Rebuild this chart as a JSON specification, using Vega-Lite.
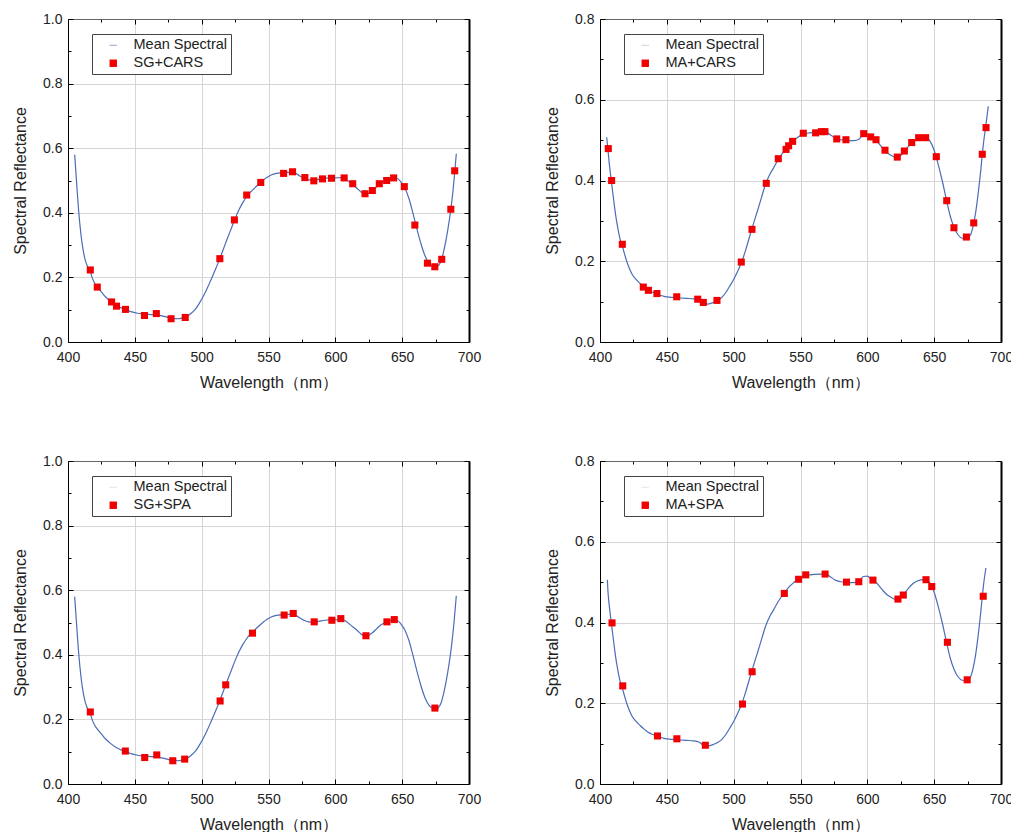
{
  "$schema": "https://vega.github.io/schema/vega-lite/v6.json",
  "padding": {"left": 12, "top": 12, "right": 0, "bottom": 0},
  "columns": 2,
  "spacing": {"row": 64, "column": 63},
  "config": {
    "font": "Liberation Sans",
    "view": {"stroke": null},
    "axis": {"labelFont": "Liberation Sans", "titleFont": "Liberation Sans", "labelColor": "#222", "titleColor": "#222", "titleFontWeight": "normal", "labelOverlap": false, "labelFlush": false}
  },
  "datasets": {
    "sg": [
      {"nm": 405, "r": 0.58}, {"nm": 406, "r": 0.52}, {"nm": 407, "r": 0.46}, {"nm": 408, "r": 0.405}, {"nm": 409, "r": 0.36},
      {"nm": 410, "r": 0.322}, {"nm": 411, "r": 0.293}, {"nm": 412, "r": 0.27}, {"nm": 413, "r": 0.252}, {"nm": 414, "r": 0.24},
      {"nm": 415, "r": 0.23}, {"nm": 416.7, "r": 0.218}, {"nm": 418, "r": 0.2}, {"nm": 420, "r": 0.182}, {"nm": 422, "r": 0.17},
      {"nm": 425, "r": 0.155}, {"nm": 428, "r": 0.14}, {"nm": 432, "r": 0.125}, {"nm": 436, "r": 0.113}, {"nm": 440, "r": 0.105},
      {"nm": 443, "r": 0.1}, {"nm": 447, "r": 0.094}, {"nm": 452, "r": 0.089}, {"nm": 457, "r": 0.086}, {"nm": 462, "r": 0.085},
      {"nm": 466, "r": 0.084}, {"nm": 470, "r": 0.081}, {"nm": 474, "r": 0.077}, {"nm": 478, "r": 0.073}, {"nm": 482, "r": 0.072},
      {"nm": 486, "r": 0.075}, {"nm": 489, "r": 0.079}, {"nm": 492, "r": 0.088}, {"nm": 495, "r": 0.1}, {"nm": 498, "r": 0.118},
      {"nm": 501, "r": 0.14}, {"nm": 504, "r": 0.165}, {"nm": 507, "r": 0.193}, {"nm": 510, "r": 0.222}, {"nm": 513, "r": 0.252},
      {"nm": 516, "r": 0.285}, {"nm": 519, "r": 0.318}, {"nm": 522, "r": 0.35}, {"nm": 525, "r": 0.382}, {"nm": 528, "r": 0.41},
      {"nm": 531, "r": 0.433}, {"nm": 534, "r": 0.452}, {"nm": 537, "r": 0.466}, {"nm": 540, "r": 0.478}, {"nm": 543, "r": 0.49},
      {"nm": 546, "r": 0.501}, {"nm": 549, "r": 0.51}, {"nm": 552, "r": 0.517}, {"nm": 556, "r": 0.522}, {"nm": 560, "r": 0.524},
      {"nm": 564, "r": 0.525}, {"nm": 567, "r": 0.526}, {"nm": 570, "r": 0.523}, {"nm": 573, "r": 0.515}, {"nm": 576, "r": 0.508},
      {"nm": 580, "r": 0.502}, {"nm": 584, "r": 0.501}, {"nm": 588, "r": 0.504}, {"nm": 592, "r": 0.507}, {"nm": 596, "r": 0.508},
      {"nm": 600, "r": 0.508}, {"nm": 604, "r": 0.509}, {"nm": 607, "r": 0.506}, {"nm": 610, "r": 0.497}, {"nm": 613, "r": 0.487},
      {"nm": 616, "r": 0.477}, {"nm": 619, "r": 0.465}, {"nm": 622, "r": 0.458}, {"nm": 625, "r": 0.461}, {"nm": 628, "r": 0.469},
      {"nm": 631, "r": 0.481}, {"nm": 634, "r": 0.492}, {"nm": 637, "r": 0.499}, {"nm": 640, "r": 0.504}, {"nm": 643, "r": 0.508},
      {"nm": 646, "r": 0.507}, {"nm": 649, "r": 0.496}, {"nm": 652, "r": 0.477}, {"nm": 655, "r": 0.445}, {"nm": 658, "r": 0.4},
      {"nm": 661, "r": 0.35}, {"nm": 664, "r": 0.305}, {"nm": 667, "r": 0.268}, {"nm": 670, "r": 0.244}, {"nm": 673, "r": 0.234},
      {"nm": 675, "r": 0.232}, {"nm": 677, "r": 0.236}, {"nm": 679, "r": 0.25}, {"nm": 681, "r": 0.28}, {"nm": 683, "r": 0.32},
      {"nm": 685, "r": 0.37}, {"nm": 687, "r": 0.43}, {"nm": 689, "r": 0.51}, {"nm": 690.5, "r": 0.583}
    ],
    "ma": [
      {"nm": 405, "r": 0.507}, {"nm": 406, "r": 0.475}, {"nm": 407, "r": 0.44}, {"nm": 408, "r": 0.412}, {"nm": 409, "r": 0.385},
      {"nm": 410, "r": 0.358}, {"nm": 411, "r": 0.332}, {"nm": 412, "r": 0.308}, {"nm": 413, "r": 0.288}, {"nm": 414, "r": 0.27},
      {"nm": 415, "r": 0.255}, {"nm": 416.5, "r": 0.24}, {"nm": 418, "r": 0.222}, {"nm": 420, "r": 0.2}, {"nm": 422, "r": 0.182},
      {"nm": 424, "r": 0.168}, {"nm": 427, "r": 0.155}, {"nm": 430, "r": 0.145}, {"nm": 433, "r": 0.136}, {"nm": 436, "r": 0.128},
      {"nm": 440, "r": 0.122}, {"nm": 444, "r": 0.117}, {"nm": 448, "r": 0.113}, {"nm": 452, "r": 0.111}, {"nm": 456, "r": 0.11},
      {"nm": 460, "r": 0.109}, {"nm": 465, "r": 0.108}, {"nm": 470, "r": 0.107}, {"nm": 474, "r": 0.104}, {"nm": 477, "r": 0.097},
      {"nm": 480, "r": 0.094}, {"nm": 484, "r": 0.097}, {"nm": 488, "r": 0.103}, {"nm": 491, "r": 0.11}, {"nm": 494, "r": 0.122},
      {"nm": 497, "r": 0.138}, {"nm": 500, "r": 0.155}, {"nm": 503, "r": 0.175}, {"nm": 506, "r": 0.198}, {"nm": 509, "r": 0.228},
      {"nm": 512, "r": 0.262}, {"nm": 515, "r": 0.295}, {"nm": 518, "r": 0.327}, {"nm": 521, "r": 0.36}, {"nm": 524, "r": 0.392},
      {"nm": 527, "r": 0.415}, {"nm": 530, "r": 0.432}, {"nm": 533, "r": 0.45}, {"nm": 536, "r": 0.465}, {"nm": 539, "r": 0.478},
      {"nm": 542, "r": 0.49}, {"nm": 545, "r": 0.499}, {"nm": 548, "r": 0.507}, {"nm": 551, "r": 0.513}, {"nm": 555, "r": 0.517},
      {"nm": 560, "r": 0.519}, {"nm": 565, "r": 0.52}, {"nm": 569, "r": 0.519}, {"nm": 572, "r": 0.514}, {"nm": 576, "r": 0.505},
      {"nm": 580, "r": 0.501}, {"nm": 585, "r": 0.499}, {"nm": 590, "r": 0.499}, {"nm": 594, "r": 0.503}, {"nm": 597, "r": 0.514},
      {"nm": 600, "r": 0.515}, {"nm": 603, "r": 0.507}, {"nm": 606, "r": 0.501}, {"nm": 609, "r": 0.49}, {"nm": 612, "r": 0.478},
      {"nm": 615, "r": 0.468}, {"nm": 619, "r": 0.46}, {"nm": 622, "r": 0.456}, {"nm": 625, "r": 0.462}, {"nm": 628, "r": 0.473},
      {"nm": 631, "r": 0.486}, {"nm": 634, "r": 0.496}, {"nm": 637, "r": 0.502}, {"nm": 641, "r": 0.506}, {"nm": 644, "r": 0.506},
      {"nm": 647, "r": 0.497}, {"nm": 650, "r": 0.475}, {"nm": 653, "r": 0.44}, {"nm": 656, "r": 0.4}, {"nm": 659, "r": 0.355},
      {"nm": 662, "r": 0.312}, {"nm": 665, "r": 0.283}, {"nm": 668, "r": 0.265}, {"nm": 671, "r": 0.257}, {"nm": 674, "r": 0.256},
      {"nm": 677, "r": 0.264}, {"nm": 679, "r": 0.285}, {"nm": 681, "r": 0.32}, {"nm": 683, "r": 0.37}, {"nm": 685, "r": 0.43},
      {"nm": 686, "r": 0.465}, {"nm": 687, "r": 0.495}, {"nm": 689, "r": 0.545}, {"nm": 690.5, "r": 0.584}
    ],
    "ma2": [
      {"nm": 405.5, "r": 0.506}, {"nm": 406, "r": 0.475}, {"nm": 407, "r": 0.44}, {"nm": 408, "r": 0.412}, {"nm": 409, "r": 0.385},
      {"nm": 410, "r": 0.358}, {"nm": 411, "r": 0.332}, {"nm": 412, "r": 0.308}, {"nm": 413, "r": 0.288}, {"nm": 414, "r": 0.27},
      {"nm": 415, "r": 0.255}, {"nm": 416.5, "r": 0.24}, {"nm": 418, "r": 0.222}, {"nm": 420, "r": 0.2}, {"nm": 422, "r": 0.182},
      {"nm": 424, "r": 0.168}, {"nm": 427, "r": 0.155}, {"nm": 430, "r": 0.145}, {"nm": 433, "r": 0.136}, {"nm": 436, "r": 0.128},
      {"nm": 440, "r": 0.122}, {"nm": 444, "r": 0.117}, {"nm": 448, "r": 0.113}, {"nm": 452, "r": 0.111}, {"nm": 456, "r": 0.11},
      {"nm": 460, "r": 0.109}, {"nm": 465, "r": 0.108}, {"nm": 470, "r": 0.107}, {"nm": 474, "r": 0.104}, {"nm": 477, "r": 0.097},
      {"nm": 480, "r": 0.094}, {"nm": 484, "r": 0.097}, {"nm": 488, "r": 0.103}, {"nm": 491, "r": 0.11}, {"nm": 494, "r": 0.122},
      {"nm": 497, "r": 0.138}, {"nm": 500, "r": 0.155}, {"nm": 503, "r": 0.175}, {"nm": 506, "r": 0.198}, {"nm": 509, "r": 0.228},
      {"nm": 512, "r": 0.262}, {"nm": 515, "r": 0.295}, {"nm": 518, "r": 0.327}, {"nm": 521, "r": 0.36}, {"nm": 524, "r": 0.392},
      {"nm": 527, "r": 0.415}, {"nm": 530, "r": 0.432}, {"nm": 533, "r": 0.45}, {"nm": 536, "r": 0.465}, {"nm": 539, "r": 0.478},
      {"nm": 542, "r": 0.49}, {"nm": 545, "r": 0.499}, {"nm": 548, "r": 0.507}, {"nm": 551, "r": 0.513}, {"nm": 555, "r": 0.517},
      {"nm": 560, "r": 0.519}, {"nm": 565, "r": 0.52}, {"nm": 569, "r": 0.519}, {"nm": 572, "r": 0.514}, {"nm": 576, "r": 0.505},
      {"nm": 580, "r": 0.501}, {"nm": 585, "r": 0.499}, {"nm": 590, "r": 0.499}, {"nm": 594, "r": 0.503}, {"nm": 597, "r": 0.514},
      {"nm": 600, "r": 0.515}, {"nm": 603, "r": 0.507}, {"nm": 606, "r": 0.501}, {"nm": 609, "r": 0.49}, {"nm": 612, "r": 0.478},
      {"nm": 615, "r": 0.468}, {"nm": 619, "r": 0.46}, {"nm": 622, "r": 0.456}, {"nm": 625, "r": 0.462}, {"nm": 628, "r": 0.473},
      {"nm": 631, "r": 0.486}, {"nm": 634, "r": 0.496}, {"nm": 637, "r": 0.502}, {"nm": 641, "r": 0.506}, {"nm": 644, "r": 0.506},
      {"nm": 647, "r": 0.497}, {"nm": 650, "r": 0.475}, {"nm": 653, "r": 0.44}, {"nm": 656, "r": 0.4}, {"nm": 659, "r": 0.355},
      {"nm": 662, "r": 0.312}, {"nm": 665, "r": 0.283}, {"nm": 668, "r": 0.265}, {"nm": 671, "r": 0.257}, {"nm": 674, "r": 0.256},
      {"nm": 677, "r": 0.264}, {"nm": 679, "r": 0.285}, {"nm": 681, "r": 0.32}, {"nm": 683, "r": 0.37}, {"nm": 685, "r": 0.43},
      {"nm": 686, "r": 0.465}, {"nm": 687, "r": 0.495}, {"nm": 688.7, "r": 0.535}
    ],
    "p1": [
      {"nm": 416.7, "r": 0.223, "s": "SG+CARS"}, {"nm": 421.9, "r": 0.17, "s": "SG+CARS"}, {"nm": 432.6, "r": 0.124, "s": "SG+CARS"},
      {"nm": 436.3, "r": 0.111, "s": "SG+CARS"}, {"nm": 443.0, "r": 0.101, "s": "SG+CARS"}, {"nm": 457.2, "r": 0.082, "s": "SG+CARS"},
      {"nm": 466.1, "r": 0.088, "s": "SG+CARS"}, {"nm": 477.1, "r": 0.072, "s": "SG+CARS"}, {"nm": 487.7, "r": 0.076, "s": "SG+CARS"},
      {"nm": 513.6, "r": 0.258, "s": "SG+CARS"}, {"nm": 524.5, "r": 0.378, "s": "SG+CARS"}, {"nm": 533.7, "r": 0.455, "s": "SG+CARS"},
      {"nm": 544.2, "r": 0.494, "s": "SG+CARS"}, {"nm": 561.3, "r": 0.522, "s": "SG+CARS"}, {"nm": 568.0, "r": 0.527, "s": "SG+CARS"},
      {"nm": 577.2, "r": 0.509, "s": "SG+CARS"}, {"nm": 583.9, "r": 0.499, "s": "SG+CARS"}, {"nm": 590.4, "r": 0.505, "s": "SG+CARS"},
      {"nm": 597.1, "r": 0.507, "s": "SG+CARS"}, {"nm": 606.6, "r": 0.508, "s": "SG+CARS"}, {"nm": 613.0, "r": 0.49, "s": "SG+CARS"},
      {"nm": 622.2, "r": 0.459, "s": "SG+CARS"}, {"nm": 627.7, "r": 0.469, "s": "SG+CARS"}, {"nm": 632.9, "r": 0.49, "s": "SG+CARS"},
      {"nm": 638.4, "r": 0.5, "s": "SG+CARS"}, {"nm": 643.6, "r": 0.508, "s": "SG+CARS"}, {"nm": 651.6, "r": 0.481, "s": "SG+CARS"},
      {"nm": 659.5, "r": 0.362, "s": "SG+CARS"}, {"nm": 668.9, "r": 0.244, "s": "SG+CARS"}, {"nm": 674.4, "r": 0.233, "s": "SG+CARS"},
      {"nm": 679.6, "r": 0.256, "s": "SG+CARS"}, {"nm": 686.4, "r": 0.411, "s": "SG+CARS"}, {"nm": 689.3, "r": 0.53, "s": "SG+CARS"}
    ],
    "p2": [
      {"nm": 406.2, "r": 0.479, "s": "MA+CARS"}, {"nm": 408.7, "r": 0.4, "s": "MA+CARS"}, {"nm": 416.7, "r": 0.242, "s": "MA+CARS"},
      {"nm": 432.4, "r": 0.136, "s": "MA+CARS"}, {"nm": 436.2, "r": 0.128, "s": "MA+CARS"}, {"nm": 442.6, "r": 0.12, "s": "MA+CARS"},
      {"nm": 457.4, "r": 0.112, "s": "MA+CARS"}, {"nm": 473.1, "r": 0.106, "s": "MA+CARS"}, {"nm": 477.3, "r": 0.098, "s": "MA+CARS"},
      {"nm": 487.5, "r": 0.103, "s": "MA+CARS"}, {"nm": 505.7, "r": 0.198, "s": "MA+CARS"}, {"nm": 513.7, "r": 0.279, "s": "MA+CARS"},
      {"nm": 524.4, "r": 0.393, "s": "MA+CARS"}, {"nm": 533.4, "r": 0.454, "s": "MA+CARS"}, {"nm": 539.2, "r": 0.477, "s": "MA+CARS"},
      {"nm": 541.1, "r": 0.486, "s": "MA+CARS"}, {"nm": 544.1, "r": 0.497, "s": "MA+CARS"}, {"nm": 552.1, "r": 0.517, "s": "MA+CARS"},
      {"nm": 561.3, "r": 0.518, "s": "MA+CARS"}, {"nm": 565.6, "r": 0.521, "s": "MA+CARS"}, {"nm": 568.3, "r": 0.521, "s": "MA+CARS"},
      {"nm": 577.1, "r": 0.503, "s": "MA+CARS"}, {"nm": 584.0, "r": 0.501, "s": "MA+CARS"}, {"nm": 597.3, "r": 0.516, "s": "MA+CARS"},
      {"nm": 602.5, "r": 0.508, "s": "MA+CARS"}, {"nm": 606.5, "r": 0.501, "s": "MA+CARS"}, {"nm": 613.2, "r": 0.475, "s": "MA+CARS"},
      {"nm": 622.4, "r": 0.458, "s": "MA+CARS"}, {"nm": 627.7, "r": 0.473, "s": "MA+CARS"}, {"nm": 633.2, "r": 0.494, "s": "MA+CARS"},
      {"nm": 638.4, "r": 0.506, "s": "MA+CARS"}, {"nm": 643.6, "r": 0.506, "s": "MA+CARS"}, {"nm": 651.6, "r": 0.459, "s": "MA+CARS"},
      {"nm": 659.4, "r": 0.35, "s": "MA+CARS"}, {"nm": 664.8, "r": 0.283, "s": "MA+CARS"}, {"nm": 674.1, "r": 0.26, "s": "MA+CARS"},
      {"nm": 679.6, "r": 0.295, "s": "MA+CARS"}, {"nm": 686.0, "r": 0.465, "s": "MA+CARS"}, {"nm": 688.8, "r": 0.531, "s": "MA+CARS"}
    ],
    "p3": [
      {"nm": 416.7, "r": 0.223, "s": "SG+SPA"}, {"nm": 442.9, "r": 0.102, "s": "SG+SPA"}, {"nm": 457.4, "r": 0.082, "s": "SG+SPA"},
      {"nm": 466.4, "r": 0.09, "s": "SG+SPA"}, {"nm": 478.4, "r": 0.072, "s": "SG+SPA"}, {"nm": 487.3, "r": 0.077, "s": "SG+SPA"},
      {"nm": 513.8, "r": 0.257, "s": "SG+SPA"}, {"nm": 518.0, "r": 0.307, "s": "SG+SPA"}, {"nm": 538.0, "r": 0.467, "s": "SG+SPA"},
      {"nm": 561.7, "r": 0.523, "s": "SG+SPA"}, {"nm": 568.5, "r": 0.528, "s": "SG+SPA"}, {"nm": 584.2, "r": 0.502, "s": "SG+SPA"},
      {"nm": 597.4, "r": 0.507, "s": "SG+SPA"}, {"nm": 604.1, "r": 0.512, "s": "SG+SPA"}, {"nm": 622.9, "r": 0.459, "s": "SG+SPA"},
      {"nm": 638.6, "r": 0.502, "s": "SG+SPA"}, {"nm": 644.1, "r": 0.509, "s": "SG+SPA"}, {"nm": 674.5, "r": 0.235, "s": "SG+SPA"}
    ],
    "p4": [
      {"nm": 409.0, "r": 0.399, "s": "MA+SPA"}, {"nm": 417.0, "r": 0.243, "s": "MA+SPA"}, {"nm": 443.0, "r": 0.119, "s": "MA+SPA"},
      {"nm": 457.5, "r": 0.112, "s": "MA+SPA"}, {"nm": 478.8, "r": 0.096, "s": "MA+SPA"}, {"nm": 506.6, "r": 0.198, "s": "MA+SPA"},
      {"nm": 513.8, "r": 0.278, "s": "MA+SPA"}, {"nm": 537.9, "r": 0.472, "s": "MA+SPA"}, {"nm": 548.6, "r": 0.507, "s": "MA+SPA"},
      {"nm": 553.9, "r": 0.518, "s": "MA+SPA"}, {"nm": 568.4, "r": 0.52, "s": "MA+SPA"}, {"nm": 584.4, "r": 0.5, "s": "MA+SPA"},
      {"nm": 593.6, "r": 0.501, "s": "MA+SPA"}, {"nm": 604.2, "r": 0.505, "s": "MA+SPA"}, {"nm": 622.9, "r": 0.458, "s": "MA+SPA"},
      {"nm": 626.9, "r": 0.468, "s": "MA+SPA"}, {"nm": 643.9, "r": 0.506, "s": "MA+SPA"}, {"nm": 648.2, "r": 0.489, "s": "MA+SPA"},
      {"nm": 659.9, "r": 0.351, "s": "MA+SPA"}, {"nm": 674.7, "r": 0.258, "s": "MA+SPA"}, {"nm": 686.7, "r": 0.465, "s": "MA+SPA"}
    ]
  },
  "resolve": {"scale": {"color": "independent", "shape": "independent"}, "legend": {"color": "independent", "shape": "independent"}},
  "concat": [
    {
      "width": 401, "height": 323,
      "resolve": {"axis": {"x": "independent", "y": "independent"}},
      "layer": [
        {
          "data": {"name": "sg"},
          "mark": {"type": "line", "color": "#4b6cb7", "strokeWidth": 1.2, "interpolate": "monotone"},
          "encoding": {
            "x": {"field": "nm", "type": "quantitative", "scale": {"domain": [400, 700], "nice": false},
              "axis": {"orient": "bottom", "values": [400, 425, 450, 475, 500, 525, 550, 575, 600, 625, 650, 675, 700], "labelExpr": "datum.value % 50 === 0 ? datum.label : ''", "title": "Wavelength（nm）", "titleFontSize": 16, "titlePadding": 8, "labelFontSize": 14, "labelPadding": 13, "domainColor": "#000", "tickColor": "#000", "grid": true, "gridColor": "#d6d6d6", "gridOpacity": {"condition": {"test": "datum.value % 50 !== 0", "value": 0}, "value": 1}, "tickSize": {"condition": {"test": "datum.value % 50 !== 0", "value": -3}, "value": -5}}},
            "y": {"field": "r", "type": "quantitative", "scale": {"domain": [0, 1], "nice": false},
              "axis": {"orient": "left", "values": [0, 0.1, 0.2, 0.3, 0.4, 0.5, 0.6, 0.7, 0.8, 0.9, 1.0], "format": ".1f", "labelExpr": "round(datum.value * 10) % 2 === 0 ? datum.label : ''", "title": "Spectral Reflectance", "titleFontSize": 16, "titlePadding": 14, "labelFontSize": 14, "labelPadding": 11, "domainColor": "#000", "tickColor": "#000", "grid": true, "gridColor": "#d6d6d6", "gridOpacity": {"condition": {"test": "round(datum.value * 10) % 2 !== 0", "value": 0}, "value": 1}, "tickSize": {"condition": {"test": "round(datum.value * 10) % 2 !== 0", "value": -3}, "value": -5}}}
          }
        },
        {
          "data": {"name": "p1"},
          "mark": {"type": "point", "filled": true, "opacity": 1, "size": 50},
          "encoding": {
            "x": {"field": "nm", "type": "quantitative", "axis": {"orient": "top", "values": [400, 425, 450, 475, 500, 525, 550, 575, 600, 625, 650, 675, 700], "labels": false, "title": null, "grid": false, "domainColor": "#666", "tickColor": "#000", "tickSize": {"condition": {"test": "datum.value % 50 !== 0", "value": -3}, "value": -5}}},
            "y": {"field": "r", "type": "quantitative", "axis": {"orient": "right", "values": [0, 0.1, 0.2, 0.3, 0.4, 0.5, 0.6, 0.7, 0.8, 0.9, 1.0], "labels": false, "title": null, "grid": false, "domainColor": "#000", "domainWidth": 2, "tickColor": "#000", "tickSize": {"condition": {"test": "round(datum.value * 10) % 2 !== 0", "value": -3}, "value": -5}}},
            "color": {"field": "s", "type": "nominal", "scale": {"domain": ["Mean Spectral", "SG+CARS"], "range": ["#8797c8", "#f00000"]},
              "legend": {"title": null, "orient": "none", "legendX": 24, "legendY": 15, "padding": 4, "rowPadding": 3, "symbolOffset": 10, "labelOffset": 13, "labelFontSize": 14.5, "labelFont": "Liberation Sans", "labelColor": "#222", "symbolSize": 55, "symbolStrokeWidth": 0, "strokeColor": "#444", "fillColor": "#fff"}},
            "shape": {"field": "s", "type": "nominal", "scale": {"domain": ["Mean Spectral", "SG+CARS"], "range": ["M-1,-0.12H1V0.12H-1Z", "square"]},
              "legend": {"title": null, "orient": "none", "legendX": 24, "legendY": 15, "padding": 4, "rowPadding": 3, "symbolOffset": 10, "labelOffset": 13, "labelFontSize": 14.5, "labelFont": "Liberation Sans", "labelColor": "#222", "symbolSize": 55, "symbolStrokeWidth": 0, "strokeColor": "#444", "fillColor": "#fff"}}
          }
        }
      ]
    },
    {
      "width": 401, "height": 323,
      "resolve": {"axis": {"x": "independent", "y": "independent"}},
      "layer": [
        {
          "data": {"name": "ma"},
          "mark": {"type": "line", "color": "#4b6cb7", "strokeWidth": 1.2, "interpolate": "monotone"},
          "encoding": {
            "x": {"field": "nm", "type": "quantitative", "scale": {"domain": [400, 700], "nice": false},
              "axis": {"orient": "bottom", "values": [400, 425, 450, 475, 500, 525, 550, 575, 600, 625, 650, 675, 700], "labelExpr": "datum.value % 50 === 0 ? datum.label : ''", "title": "Wavelength（nm）", "titleFontSize": 16, "titlePadding": 8, "labelFontSize": 14, "labelPadding": 13, "domainColor": "#000", "tickColor": "#000", "grid": true, "gridColor": "#d6d6d6", "gridOpacity": {"condition": {"test": "datum.value % 50 !== 0", "value": 0}, "value": 1}, "tickSize": {"condition": {"test": "datum.value % 50 !== 0", "value": -3}, "value": -5}}},
            "y": {"field": "r", "type": "quantitative", "scale": {"domain": [0, 0.8], "nice": false},
              "axis": {"orient": "left", "values": [0, 0.1, 0.2, 0.3, 0.4, 0.5, 0.6, 0.7, 0.8], "format": ".1f", "labelExpr": "round(datum.value * 10) % 2 === 0 ? datum.label : ''", "title": "Spectral Reflectance", "titleFontSize": 16, "titlePadding": 14, "labelFontSize": 14, "labelPadding": 11, "domainColor": "#000", "tickColor": "#000", "grid": true, "gridColor": "#d6d6d6", "gridOpacity": {"condition": {"test": "round(datum.value * 10) % 2 !== 0", "value": 0}, "value": 1}, "tickSize": {"condition": {"test": "round(datum.value * 10) % 2 !== 0", "value": -3}, "value": -5}}}
          }
        },
        {
          "data": {"name": "p2"},
          "mark": {"type": "point", "filled": true, "opacity": 1, "size": 50},
          "encoding": {
            "x": {"field": "nm", "type": "quantitative", "axis": {"orient": "top", "values": [400, 425, 450, 475, 500, 525, 550, 575, 600, 625, 650, 675, 700], "labels": false, "title": null, "grid": false, "domainColor": "#666", "tickColor": "#000", "tickSize": {"condition": {"test": "datum.value % 50 !== 0", "value": -3}, "value": -5}}},
            "y": {"field": "r", "type": "quantitative", "axis": {"orient": "right", "values": [0, 0.1, 0.2, 0.3, 0.4, 0.5, 0.6, 0.7, 0.8], "labels": false, "title": null, "grid": false, "domainColor": "#000", "domainWidth": 2, "tickColor": "#000", "tickSize": {"condition": {"test": "round(datum.value * 10) % 2 !== 0", "value": -3}, "value": -5}}},
            "color": {"field": "s", "type": "nominal", "scale": {"domain": ["Mean Spectral", "MA+CARS"], "range": ["#c8ccd8", "#f00000"]},
              "legend": {"title": null, "orient": "none", "legendX": 24, "legendY": 15, "padding": 4, "rowPadding": 3, "symbolOffset": 10, "labelOffset": 13, "labelFontSize": 14.5, "labelFont": "Liberation Sans", "labelColor": "#222", "symbolSize": 55, "symbolStrokeWidth": 0, "strokeColor": "#444", "fillColor": "#fff"}},
            "shape": {"field": "s", "type": "nominal", "scale": {"domain": ["Mean Spectral", "MA+CARS"], "range": ["M-1,-0.12H1V0.12H-1Z", "square"]},
              "legend": {"title": null, "orient": "none", "legendX": 24, "legendY": 15, "padding": 4, "rowPadding": 3, "symbolOffset": 10, "labelOffset": 13, "labelFontSize": 14.5, "labelFont": "Liberation Sans", "labelColor": "#222", "symbolSize": 55, "symbolStrokeWidth": 0, "strokeColor": "#444", "fillColor": "#fff"}}
          }
        }
      ]
    },
    {
      "width": 401, "height": 323,
      "resolve": {"axis": {"x": "independent", "y": "independent"}},
      "layer": [
        {
          "data": {"name": "sg"},
          "mark": {"type": "line", "color": "#4b6cb7", "strokeWidth": 1.2, "interpolate": "monotone"},
          "encoding": {
            "x": {"field": "nm", "type": "quantitative", "scale": {"domain": [400, 700], "nice": false},
              "axis": {"orient": "bottom", "values": [400, 425, 450, 475, 500, 525, 550, 575, 600, 625, 650, 675, 700], "labelExpr": "datum.value % 50 === 0 ? datum.label : ''", "title": "Wavelength（nm）", "titleFontSize": 16, "titlePadding": 8, "labelFontSize": 14, "labelPadding": 13, "domainColor": "#000", "tickColor": "#000", "grid": true, "gridColor": "#d6d6d6", "gridOpacity": {"condition": {"test": "datum.value % 50 !== 0", "value": 0}, "value": 1}, "tickSize": {"condition": {"test": "datum.value % 50 !== 0", "value": -3}, "value": -5}}},
            "y": {"field": "r", "type": "quantitative", "scale": {"domain": [0, 1], "nice": false},
              "axis": {"orient": "left", "values": [0, 0.1, 0.2, 0.3, 0.4, 0.5, 0.6, 0.7, 0.8, 0.9, 1.0], "format": ".1f", "labelExpr": "round(datum.value * 10) % 2 === 0 ? datum.label : ''", "title": "Spectral Reflectance", "titleFontSize": 16, "titlePadding": 14, "labelFontSize": 14, "labelPadding": 11, "domainColor": "#000", "tickColor": "#000", "grid": true, "gridColor": "#d6d6d6", "gridOpacity": {"condition": {"test": "round(datum.value * 10) % 2 !== 0", "value": 0}, "value": 1}, "tickSize": {"condition": {"test": "round(datum.value * 10) % 2 !== 0", "value": -3}, "value": -5}}}
          }
        },
        {
          "data": {"name": "p3"},
          "mark": {"type": "point", "filled": true, "opacity": 1, "size": 50},
          "encoding": {
            "x": {"field": "nm", "type": "quantitative", "axis": {"orient": "top", "values": [400, 425, 450, 475, 500, 525, 550, 575, 600, 625, 650, 675, 700], "labels": false, "title": null, "grid": false, "domainColor": "#666", "tickColor": "#000", "tickSize": {"condition": {"test": "datum.value % 50 !== 0", "value": -3}, "value": -5}}},
            "y": {"field": "r", "type": "quantitative", "axis": {"orient": "right", "values": [0, 0.1, 0.2, 0.3, 0.4, 0.5, 0.6, 0.7, 0.8, 0.9, 1.0], "labels": false, "title": null, "grid": false, "domainColor": "#000", "domainWidth": 2, "tickColor": "#000", "tickSize": {"condition": {"test": "round(datum.value * 10) % 2 !== 0", "value": -3}, "value": -5}}},
            "color": {"field": "s", "type": "nominal", "scale": {"domain": ["Mean Spectral", "SG+SPA"], "range": ["#dde0ea", "#f00000"]},
              "legend": {"title": null, "orient": "none", "legendX": 24, "legendY": 15, "padding": 4, "rowPadding": 3, "symbolOffset": 10, "labelOffset": 13, "labelFontSize": 14.5, "labelFont": "Liberation Sans", "labelColor": "#222", "symbolSize": 55, "symbolStrokeWidth": 0, "strokeColor": "#444", "fillColor": "#fff"}},
            "shape": {"field": "s", "type": "nominal", "scale": {"domain": ["Mean Spectral", "SG+SPA"], "range": ["M-1,-0.12H1V0.12H-1Z", "square"]},
              "legend": {"title": null, "orient": "none", "legendX": 24, "legendY": 15, "padding": 4, "rowPadding": 3, "symbolOffset": 10, "labelOffset": 13, "labelFontSize": 14.5, "labelFont": "Liberation Sans", "labelColor": "#222", "symbolSize": 55, "symbolStrokeWidth": 0, "strokeColor": "#444", "fillColor": "#fff"}}
          }
        }
      ]
    },
    {
      "width": 401, "height": 323,
      "resolve": {"axis": {"x": "independent", "y": "independent"}},
      "layer": [
        {
          "data": {"name": "ma2"},
          "mark": {"type": "line", "color": "#4b6cb7", "strokeWidth": 1.2, "interpolate": "monotone"},
          "encoding": {
            "x": {"field": "nm", "type": "quantitative", "scale": {"domain": [400, 700], "nice": false},
              "axis": {"orient": "bottom", "values": [400, 425, 450, 475, 500, 525, 550, 575, 600, 625, 650, 675, 700], "labelExpr": "datum.value % 50 === 0 ? datum.label : ''", "title": "Wavelength（nm）", "titleFontSize": 16, "titlePadding": 8, "labelFontSize": 14, "labelPadding": 13, "domainColor": "#000", "tickColor": "#000", "grid": true, "gridColor": "#d6d6d6", "gridOpacity": {"condition": {"test": "datum.value % 50 !== 0", "value": 0}, "value": 1}, "tickSize": {"condition": {"test": "datum.value % 50 !== 0", "value": -3}, "value": -5}}},
            "y": {"field": "r", "type": "quantitative", "scale": {"domain": [0, 0.8], "nice": false},
              "axis": {"orient": "left", "values": [0, 0.1, 0.2, 0.3, 0.4, 0.5, 0.6, 0.7, 0.8], "format": ".1f", "labelExpr": "round(datum.value * 10) % 2 === 0 ? datum.label : ''", "title": "Spectral Reflectance", "titleFontSize": 16, "titlePadding": 14, "labelFontSize": 14, "labelPadding": 11, "domainColor": "#000", "tickColor": "#000", "grid": true, "gridColor": "#d6d6d6", "gridOpacity": {"condition": {"test": "round(datum.value * 10) % 2 !== 0", "value": 0}, "value": 1}, "tickSize": {"condition": {"test": "round(datum.value * 10) % 2 !== 0", "value": -3}, "value": -5}}}
          }
        },
        {
          "data": {"name": "p4"},
          "mark": {"type": "point", "filled": true, "opacity": 1, "size": 50},
          "encoding": {
            "x": {"field": "nm", "type": "quantitative", "axis": {"orient": "top", "values": [400, 425, 450, 475, 500, 525, 550, 575, 600, 625, 650, 675, 700], "labels": false, "title": null, "grid": false, "domainColor": "#666", "tickColor": "#000", "tickSize": {"condition": {"test": "datum.value % 50 !== 0", "value": -3}, "value": -5}}},
            "y": {"field": "r", "type": "quantitative", "axis": {"orient": "right", "values": [0, 0.1, 0.2, 0.3, 0.4, 0.5, 0.6, 0.7, 0.8], "labels": false, "title": null, "grid": false, "domainColor": "#000", "domainWidth": 2, "tickColor": "#000", "tickSize": {"condition": {"test": "round(datum.value * 10) % 2 !== 0", "value": -3}, "value": -5}}},
            "color": {"field": "s", "type": "nominal", "scale": {"domain": ["Mean Spectral", "MA+SPA"], "range": ["#dde0ea", "#f00000"]},
              "legend": {"title": null, "orient": "none", "legendX": 24, "legendY": 15, "padding": 4, "rowPadding": 3, "symbolOffset": 10, "labelOffset": 13, "labelFontSize": 14.5, "labelFont": "Liberation Sans", "labelColor": "#222", "symbolSize": 55, "symbolStrokeWidth": 0, "strokeColor": "#444", "fillColor": "#fff"}},
            "shape": {"field": "s", "type": "nominal", "scale": {"domain": ["Mean Spectral", "MA+SPA"], "range": ["M-1,-0.12H1V0.12H-1Z", "square"]},
              "legend": {"title": null, "orient": "none", "legendX": 24, "legendY": 15, "padding": 4, "rowPadding": 3, "symbolOffset": 10, "labelOffset": 13, "labelFontSize": 14.5, "labelFont": "Liberation Sans", "labelColor": "#222", "symbolSize": 55, "symbolStrokeWidth": 0, "strokeColor": "#444", "fillColor": "#fff"}}
          }
        }
      ]
    }
  ]
}
